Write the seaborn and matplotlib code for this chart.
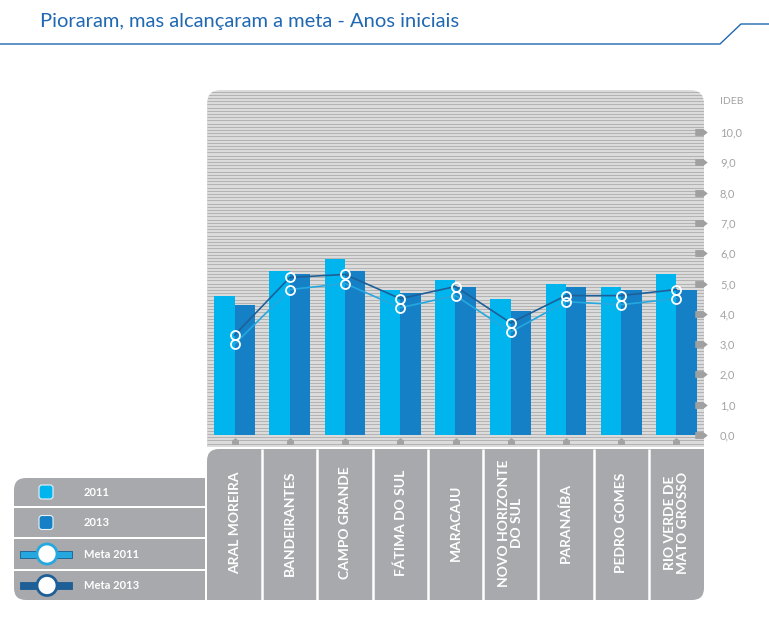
import numpy as np
import pandas as pd
import matplotlib
matplotlib.use("Agg")
import matplotlib.pyplot as plt
import seaborn as sns
from matplotlib.path import Path
from matplotlib.patches import PathPatch, FancyBboxPatch, Circle, Rectangle

# dados (IDEB anos iniciais)
municipios = ["ARAL MOREIRA", "BANDEIRANTES", "CAMPO GRANDE", "FÁTIMA DO SUL", "MARACAJU",
              "NOVO HORIZONTE\nDO SUL", "PARANAÍBA", "PEDRO GOMES", "RIO VERDE DE\nMATO GROSSO"]
anos = ["2011", "2013"]
ideb_2011 = [4.6, 5.4, 5.8, 4.8, 5.1, 4.5, 5.0, 4.9, 5.3]
ideb_2013 = [4.3, 5.3, 5.4, 4.7, 4.9, 4.1, 4.9, 4.8, 4.8]
meta_2011 = [3.0, 4.8, 5.0, 4.2, 4.6, 3.4, 4.4, 4.3, 4.5]
meta_2013 = [3.3, 5.2, 5.3, 4.5, 4.9, 3.7, 4.6, 4.6, 4.8]
yticks = np.arange(0, 11)
legenda = ["2011", "2013", "Meta 2011", "Meta 2013"]

# cores
cor_2011 = "#00b4ee"
cor_2013 = "#1580c6"
cor_meta11 = "#25a8df"
cor_meta13 = "#1f5f98"
cor_titulo = "#2068b1"
cinza = "#a7a9ac"
cinza_txt = "#a3a3a3"

sns.set_style("white")
plt.rcParams["font.family"] = ["Lato", "DejaVu Sans"]

W, H = 769, 621
fig = plt.figure(figsize=(W / 100, H / 100), dpi=100)


def rrect(x0, y0, x1, y1, tl=0, tr=0, br=0, bl=0, **kw):
    # retangulo com cantos arredondados individuais (y para baixo)
    v = [(x0 + tl, y0), (x1 - tr, y0), (x1, y0), (x1, y0 + tr), (x1, y1 - br), (x1, y1),
         (x1 - br, y1), (x0 + bl, y1), (x0, y1), (x0, y1 - bl), (x0, y0 + tl), (x0, y0),
         (x0 + tl, y0)]
    c = [Path.MOVETO, Path.LINETO, Path.CURVE3, Path.CURVE3, Path.LINETO, Path.CURVE3,
         Path.CURVE3, Path.LINETO, Path.CURVE3, Path.CURVE3, Path.LINETO, Path.CURVE3,
         Path.CURVE3]
    return PathPatch(Path(v, c), **kw)


# fundo / moldura em pixels
bg = fig.add_axes([0, 0, 1, 1])
bg.set_xlim(0, W)
bg.set_ylim(H, 0)
bg.axis("off")
bg.set_zorder(0)

bg.text(40, 22, "Pioraram, mas alcançaram a meta - Anos iniciais", color=cor_titulo,
        fontsize=14.5, ha="left", va="center")
bg.plot([0, 720, 741, W], [44, 44, 24, 24], color=cor_titulo, lw=1)

L, R, T, B = 207, 704, 90, 447
caixa = rrect(L, T, R, B, tl=14, tr=14, fc="#dcdcdc", ec="none")
bg.add_patch(caixa)
listras = bg.hlines(np.arange(T + 1.5, B, 3.2), L, R, colors="#b3b3b3", lw=0.75)
listras.set_clip_path(caixa)

bg.add_patch(rrect(L, 449, R, 600, tl=12, br=12, fc=cinza, ec="none"))

linhas_leg = [(478, 506), (508, 537), (539, 569), (571, 600)]
for i, (y0, y1) in enumerate(linhas_leg):
    bg.add_patch(rrect(14, y0, 205, y1, tl=12 if i == 0 else 0, bl=12 if i == 3 else 0,
                       fc=cinza, ec="none"))
    yc = (y0 + y1) / 2
    if i < 2:
        cor = [cor_2011, cor_2013][i]
        bg.add_patch(FancyBboxPatch((39, yc - 7), 14, 14, boxstyle="round,pad=0,rounding_size=3",
                                    fc=cor, ec="#e6f3fa", lw=0.8))
    else:
        cor = [cor_meta11, cor_meta13][i - 2]
        bg.add_patch(Rectangle((20, yc - 3.5), 52, 7, fc=cor, ec="#1c5c92", lw=0.6))
        bg.add_patch(Circle((47, yc), 10, fc="white", ec=cor, lw=2))
    bg.text(84, yc, legenda[i], color="white", fontsize=8, fontweight="bold", va="center")

# grafico
ax = fig.add_axes([L / W, 1 - B / H, (R - L) / W, (B - T) / H])
ax.set_zorder(2)
ax.patch.set_alpha(0)

df = pd.DataFrame({
    "municipio": municipios * 2,
    "ano": [anos[0]] * len(municipios) + [anos[1]] * len(municipios),
    "ideb": ideb_2011 + ideb_2013,
})
sns.barplot(data=df, x="municipio", y="ideb", hue="ano", palette=[cor_2011, cor_2013],
            width=0.74, saturation=1, legend=False, linewidth=0, ax=ax)

pos = np.arange(len(municipios))
ax.plot(pos, meta_2011, color=cor_meta11, lw=1.2, marker="o", ms=6.5, mfc="none",
        mec="white", mew=1.3, zorder=5)
ax.plot(pos, meta_2013, color=cor_meta13, lw=1.2, marker="o", ms=6.5, mfc="none",
        mec="white", mew=1.3, zorder=5)

y0pix, escala = 435, 30.3
ax.set_xlim(-0.5, len(municipios) - 0.5)
ax.set_ylim(-(B - y0pix) / escala, (y0pix - T) / escala)
sns.despine(ax=ax, left=True, bottom=True)
ax.set_xlabel("")
ax.set_ylabel("")
ax.set_xticks([])
ax.yaxis.tick_right()
ax.set_yticks(yticks)
ax.set_yticklabels([f"{v:.1f}".replace(".", ",") for v in yticks])
ax.tick_params(axis="y", length=0, pad=11.5, labelcolor=cinza_txt, labelsize=8)
ax.text((720 - L) / (R - L), 11.02, "IDEB", transform=ax.get_yaxis_transform(),
        color=cinza_txt, fontsize=7.5, va="center", ha="left")

seta = [(-1, -0.55), (0.3, -0.55), (1, 0), (0.3, 0.55), (-1, 0.55), (-1, -0.55)]
ax.plot(np.full(len(yticks), 0.994), yticks, transform=ax.get_yaxis_transform(), ls="none",
        marker=seta, ms=9, color="#a0a0a0", mew=0, clip_on=False)
casa = [(-1, -1), (1, -1), (1, 0.2), (0, 1), (-1, 0.2), (-1, -1)]
ax.plot(pos, np.full(len(pos), -0.2), ls="none", marker=casa, ms=5, color="#a3a3a3",
        mew=0, clip_on=False)

# rotulos das categorias
ax.vlines(pos[:-1] + 0.5, -(600 - B) / (B - T), -(449 - B) / (B - T),
          transform=ax.get_xaxis_transform(), colors="white", lw=1.8, clip_on=False)
for i, m in enumerate(municipios):
    ax.text(i, -(523 - B) / (B - T), m, transform=ax.get_xaxis_transform(), rotation=90,
            ha="center", va="center", multialignment="center", color="white",
            fontweight="bold", fontsize=10, linespacing=1.1)

fig.savefig("out.png", dpi=100)
